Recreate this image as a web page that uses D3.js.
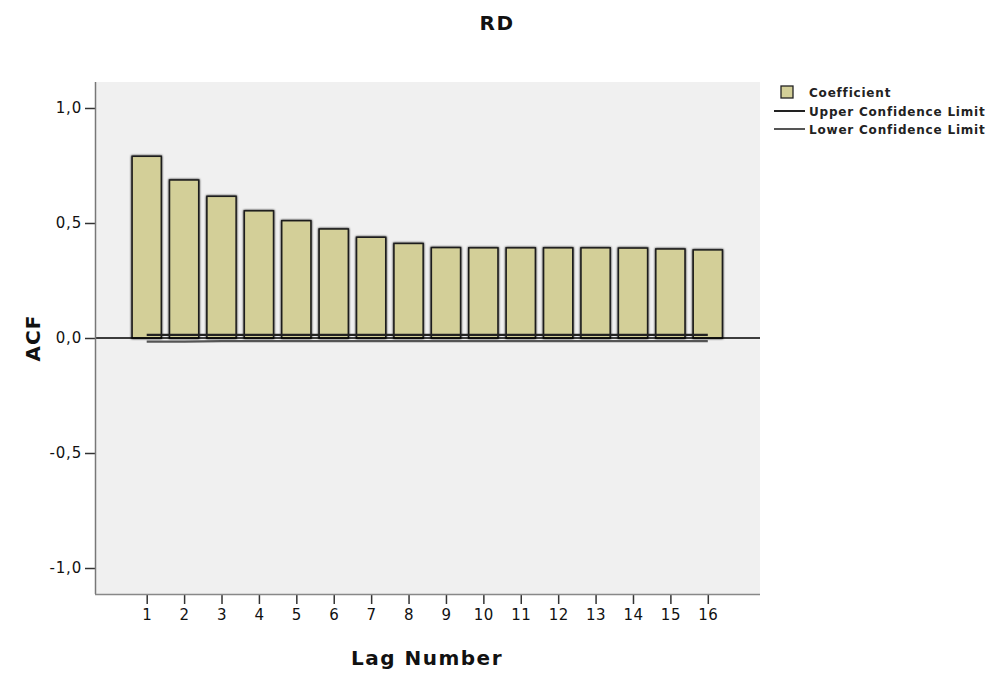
<!DOCTYPE html>
<html>
<head>
<meta charset="utf-8">
<script src="https://cdn.jsdelivr.net/npm/d3@7"></script>
<style>
body { margin: 0; background: #fff; }
svg { display: block; }
</style>
</head>
<body>
<script>
// ACF values
var lags = [1, 2, 3, 4, 5, 6, 7, 8, 9, 10, 11, 12, 13, 14, 15, 16];
var coefficient = [0.790, 0.687, 0.616, 0.553, 0.510, 0.474, 0.438, 0.411, 0.393, 0.392, 0.392, 0.392, 0.392, 0.391, 0.387, 0.383];
var upperLimit = [0.014, 0.014, 0.014, 0.014, 0.014, 0.014, 0.014, 0.014, 0.014, 0.014, 0.014, 0.014, 0.014, 0.014, 0.014, 0.014];
var lowerLimit = [-0.016, -0.016, -0.014, -0.014, -0.014, -0.014, -0.014, -0.014, -0.014, -0.014, -0.014, -0.014, -0.014, -0.014, -0.014, -0.014];
var yTicks = [-1, -0.5, 0, 0.5, 1];
var legendItems = ["Coefficient", "Upper Confidence Limit", "Lower Confidence Limit"];

var width = 993;
var height = 675;
var plot = {left: 96, right: 760, top: 82, bottom: 594};

var svg = d3.select("body").append("svg")
	.attr("width", width)
	.attr("height", height)
	.style("font-family", "'DejaVu Sans', Verdana, sans-serif");

var x = d3.scaleLinear().domain([1, 16]).range([146.7, 707.8]);
var y = d3.scaleLinear().domain([-1.113, 1.113]).range([plot.bottom, plot.top]);
var barWidth = (x(2) - x(1)) * 0.78;

// comma decimals, plain hyphen for negatives
var fmt = function(d) { return d.toFixed(1).replace(".", ","); };

var defs = svg.append("defs");
var shadow = defs.append("filter").attr("id", "shadow")
	.attr("x", "-20%").attr("y", "-20%").attr("width", "140%").attr("height", "140%");
shadow.append("feGaussianBlur").attr("in", "SourceAlpha").attr("stdDeviation", 1.2).attr("result", "blur");
var merge = shadow.append("feMerge");
merge.append("feMergeNode").attr("in", "blur");
merge.append("feMergeNode").attr("in", "SourceGraphic");

// plot background
svg.append("rect")
	.attr("x", plot.left)
	.attr("y", plot.top)
	.attr("width", plot.right - plot.left)
	.attr("height", plot.bottom - plot.top)
	.attr("fill", "#f0f0f0");

// title
svg.append("text")
	.attr("x", 497)
	.attr("y", 30)
	.attr("text-anchor", "middle")
	.attr("font-size", "20px")
	.attr("font-weight", "bold")
	.attr("letter-spacing", "1.5px")
	.attr("fill", "#111")
	.text("RD");

// bars
svg.selectAll("rect.bar")
	.data(coefficient)
	.enter()
	.append("rect")
	.attr("class", "bar")
	.attr("x", function(d, i) { return x(lags[i]) - barWidth / 2; })
	.attr("y", function(d) { return y(d); })
	.attr("width", barWidth)
	.attr("height", function(d) { return y(0) - y(d); })
	.attr("fill", "#d3cf98")
	.attr("stroke", "#1a1a1a")
	.attr("stroke-width", 1.5)
	.attr("filter", "url(#shadow)");

// confidence limits
var line = d3.line()
	.x(function(d, i) { return x(lags[i]); })
	.y(function(d) { return y(d); });

svg.append("path")
	.datum(lowerLimit)
	.attr("d", line)
	.attr("fill", "none")
	.attr("stroke", "#555")
	.attr("stroke-width", 2.2);

svg.append("path")
	.datum(upperLimit)
	.attr("d", line)
	.attr("fill", "none")
	.attr("stroke", "#222")
	.attr("stroke-width", 2.2);

// zero reference line
svg.append("line")
	.attr("x1", plot.left)
	.attr("x2", plot.right)
	.attr("y1", y(0))
	.attr("y2", y(0))
	.attr("stroke", "#000")
	.attr("stroke-width", 1.5);

// y axis
var yAxis = d3.axisLeft(y).tickValues(yTicks).tickFormat(fmt).tickSize(11).tickPadding(3);
var gy = svg.append("g")
	.attr("transform", "translate(" + plot.left + ",0)")
	.call(yAxis);
gy.select(".domain").remove();
gy.append("line")
	.attr("x1", -0.5).attr("x2", -0.5)
	.attr("y1", plot.top).attr("y2", plot.bottom)
	.attr("stroke", "#777").attr("stroke-width", 1.5);
gy.selectAll(".tick line").attr("stroke", "#333").attr("stroke-width", 1.5);
gy.selectAll(".tick text")
	.attr("font-family", "'DejaVu Sans', Verdana, sans-serif")
	.attr("font-size", "15px")
	.attr("letter-spacing", "0.8px")
	.attr("fill", "#111");

// x axis
var xAxis = d3.axisBottom(x).tickValues(lags).tickFormat(d3.format("d")).tickSize(10).tickPadding(5);
var gx = svg.append("g")
	.attr("transform", "translate(0," + plot.bottom + ")")
	.call(xAxis);
gx.select(".domain").remove();
gx.append("line")
	.attr("x1", plot.left - 1).attr("x2", plot.right)
	.attr("y1", 0.5).attr("y2", 0.5)
	.attr("stroke", "#888").attr("stroke-width", 1.5);
gx.selectAll(".tick line").attr("stroke", "#333").attr("stroke-width", 1.5);
gx.selectAll(".tick text")
	.attr("font-family", "'DejaVu Sans', Verdana, sans-serif")
	.attr("font-size", "15px")
	.attr("letter-spacing", "0.5px")
	.attr("fill", "#111");

// axis titles
svg.append("text")
	.attr("x", 427)
	.attr("y", 665)
	.attr("text-anchor", "middle")
	.attr("font-size", "20px")
	.attr("font-weight", "bold")
	.attr("letter-spacing", "1.5px")
	.attr("fill", "#111")
	.text("Lag Number");

svg.append("text")
	.attr("transform", "translate(40,338) rotate(-90)")
	.attr("text-anchor", "middle")
	.attr("font-size", "20px")
	.attr("font-weight", "bold")
	.attr("letter-spacing", "1px")
	.attr("fill", "#111")
	.text("ACF");

// legend
var legend = svg.append("g")
	.attr("transform", "translate(780,85)");

legend.append("rect")
	.attr("x", 1).attr("y", 1)
	.attr("width", 12).attr("height", 12)
	.attr("fill", "#d3cf98")
	.attr("stroke", "#222")
	.attr("stroke-width", 1.3);

legend.append("line")
	.attr("x1", -6).attr("x2", 25)
	.attr("y1", 26).attr("y2", 26)
	.attr("stroke", "#222").attr("stroke-width", 2);

legend.append("line")
	.attr("x1", -6).attr("x2", 25)
	.attr("y1", 44).attr("y2", 44)
	.attr("stroke", "#555").attr("stroke-width", 2);

legend.selectAll("text")
	.data(legendItems)
	.enter()
	.append("text")
	.attr("x", 29)
	.attr("y", function(d, i) { return 12 + i * 18.5; })
	.attr("font-size", "12px")
	.attr("font-weight", "bold")
	.attr("letter-spacing", "0.8px")
	.attr("fill", "#222")
	.text(function(d) { return d; });
</script>
</body>
</html>
